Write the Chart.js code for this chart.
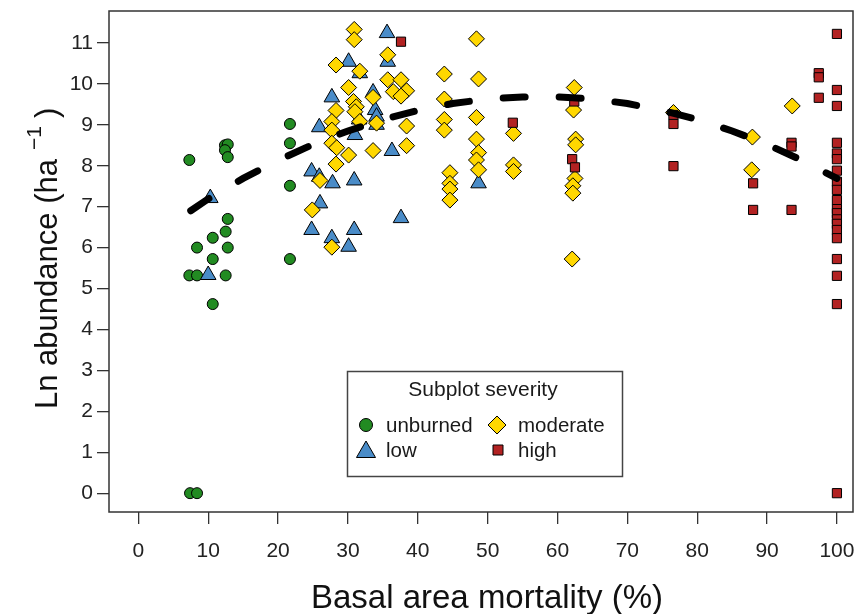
<!DOCTYPE html>
<html>
<head>
<meta charset="utf-8">
<script src="https://cdn.jsdelivr.net/npm/chart.js@4.4.0/dist/chart.umd.min.js"></script>
<style>
  html, body { margin: 0; padding: 0; background: #fff; }
  canvas { display: block; }
</style>
</head>
<body>
<canvas id="myChart" width="856" height="614"></canvas>
<script>
// ----- data ----- //
var unburnedX = [7.3, 12.4, 12.8, 12.4, 12.8, 21.7, 21.7, 21.7, 21.7, 12.8, 12.5, 10.65, 8.4, 12.8, 10.65, 7.3, 8.4, 12.5, 10.65, 7.4, 8.4];
var unburnedY = [8.14, 8.50, 8.52, 8.38, 8.21, 9.02, 8.55, 7.51, 5.72, 6.70, 6.39, 6.24, 6.00, 6.00, 5.72, 5.32, 5.32, 5.32, 4.62, 0, 0];

var lowX = [10.0, 10.3, 35.6, 30.1, 35.7, 31.7, 33.6, 27.7, 33.9, 34.1, 31.6, 34.1, 25.9, 31.0, 36.3, 24.8, 25.9, 27.8, 30.9, 26.0, 37.6, 24.8, 30.9, 27.7, 30.1, 48.7];
var lowY = [5.33, 7.21, 11.24, 10.54, 10.54, 10.26, 9.79, 9.67, 9.36, 9.20, 9.13, 9.00, 8.94, 8.75, 8.36, 7.86, 7.73, 7.57, 7.64, 7.08, 6.72, 6.43, 6.43, 6.23, 6.02, 7.57];

var moderateX = [30.9, 30.9, 28.3, 35.7, 31.7, 30.1, 35.7, 37.6, 36.5, 38.4, 37.6, 33.6, 30.8, 31.2, 28.3, 31.0, 31.7, 34.1, 27.7, 27.7, 38.4, 27.7, 28.4, 30.1, 33.6, 38.4, 28.3, 26.0, 24.9, 27.7,
  48.4, 43.8, 48.7, 43.8, 48.4, 43.8, 43.8, 48.4, 48.7, 48.4, 48.7, 44.6, 44.6, 44.6, 44.6,
  53.7, 53.7, 53.7, 62.4, 62.3, 62.6, 62.6, 62.5, 62.2, 62.2, 62.1, 76.6, 87.9, 87.8, 93.6];
var moderateY = [11.33, 11.08, 10.46, 10.71, 10.31, 9.91, 10.10, 10.10, 9.81, 9.83, 9.70, 9.67, 9.57, 9.44, 9.35, 9.32, 9.08, 9.04, 9.08, 8.87, 8.97, 8.55, 8.44, 8.26, 8.37, 8.49, 8.04, 7.64, 6.92, 6.01,
  11.10, 10.24, 10.12, 9.63, 9.18, 9.13, 8.87, 8.65, 8.32, 8.14, 7.90, 7.83, 7.57, 7.43, 7.16,
  8.79, 8.02, 7.86, 9.91, 9.36, 8.65, 8.51, 7.69, 7.51, 7.33, 5.72, 9.30, 8.70, 7.90, 9.46];

var highX = [37.6, 53.6, 62.4, 62.1, 62.5, 76.6, 76.6, 76.6, 88.0, 88.0, 93.5, 93.5, 93.5, 97.4, 97.4, 97.4,
  100, 100, 100, 100, 100, 100, 100, 100, 100, 100, 100, 100, 100, 100, 100, 100, 100, 100, 100, 100];
var highY = [11.03, 9.05, 9.57, 8.16, 7.96, 9.24, 9.02, 7.99, 7.57, 6.92, 8.56, 8.47, 6.92, 10.26, 10.16, 9.66,
  11.22, 9.85, 9.46, 8.56, 8.30, 8.16, 7.88, 7.61, 7.41, 7.16, 6.94, 6.84, 6.69, 6.58, 6.43, 6.23, 5.72, 5.31, 4.62, 0];

// dashed trend curve, read at these x positions
var trendX = [7.5, 10, 15, 20, 25, 30, 35, 40, 45, 50, 55, 60, 65, 70, 75, 80, 85, 90, 95, 100];
var trendY = [6.90, 7.19, 7.69, 8.13, 8.52, 8.85, 9.13, 9.35, 9.52, 9.63, 9.68, 9.68, 9.63, 9.52, 9.35, 9.13, 8.85, 8.52, 8.13, 7.69];

var xTicks = [0, 10, 20, 30, 40, 50, 60, 70, 80, 90, 100];
var yTicks = [0, 1, 2, 3, 4, 5, 6, 7, 8, 9, 10, 11];

var FONT = "'Liberation Sans', Arial, sans-serif";

function pts(xs, ys) {
  return xs.map((x, i) => ({ x: x, y: ys[i] }));
}

// ----- legend, box and axis titles drawn on the canvas ----- //
function marker(ctx, style, x, y, r, fill) {
  ctx.save();
  ctx.fillStyle = fill;
  ctx.strokeStyle = "#000";
  ctx.lineWidth = 1;
  ctx.beginPath();
  if (style == "circle") {
    ctx.arc(x, y, r, 0, Math.PI * 2);
  } else if (style == "triangle") {
    for (let k = 0; k < 3; k++) {
      let a = k * 2 * Math.PI / 3;
      let px = x + Math.sin(a) * r, py = y - Math.cos(a) * r;
      if (k == 0) ctx.moveTo(px, py); else ctx.lineTo(px, py);
    }
    ctx.closePath();
  } else if (style == "rectRot") {
    ctx.moveTo(x, y - r); ctx.lineTo(x + r, y); ctx.lineTo(x, y + r); ctx.lineTo(x - r, y);
    ctx.closePath();
  } else {
    ctx.rect(x - r, y - r, 2 * r, 2 * r);
  }
  ctx.fill();
  ctx.stroke();
  ctx.restore();
}

var boxAndLegend = {
  id: "boxAndLegend",
  afterDraw(chart) {
    const ctx = chart.ctx;
    const a = chart.chartArea;
    ctx.save();
    ctx.strokeStyle = "#333";
    ctx.lineWidth = 1.5;
    ctx.strokeRect(a.left, a.top, a.right - a.left, a.bottom - a.top);

    // axis titles
    ctx.fillStyle = "#111";
    ctx.textBaseline = "alphabetic";
    ctx.textAlign = "center";
    ctx.font = "33px " + FONT;
    ctx.fillText("Basal area mortality (%)", 487, 608);

    ctx.save();
    ctx.translate(57, 409);
    ctx.rotate(-Math.PI / 2);
    ctx.textAlign = "left";
    ctx.font = "31px " + FONT;
    let main = "Ln abundance (ha";
    let w1 = ctx.measureText(main).width;
    ctx.fillText(main, 0, 0);
    ctx.font = "21px " + FONT;
    let sup = "\u22121";
    let w2 = ctx.measureText(sup).width;
    ctx.fillText(sup, w1 + 9, -16);
    ctx.font = "31px " + FONT;
    ctx.fillText(")", w1 + 9 + w2 + 8, 0);
    ctx.restore();

    // legend
    ctx.fillStyle = "#fff";
    ctx.fillRect(347.5, 371.5, 275, 105);
    ctx.strokeStyle = "#444";
    ctx.lineWidth = 1.5;
    ctx.strokeRect(347.5, 371.5, 275, 105);
    ctx.fillStyle = "#1a1a1a";
    ctx.font = "21px " + FONT;
    ctx.textBaseline = "middle";
    ctx.textAlign = "center";
    ctx.fillText("Subplot severity", 483, 390);
    ctx.textAlign = "left";
    ctx.font = "20.5px " + FONT;
    ctx.fillText("unburned", 386, 426);
    ctx.fillText("low", 386, 451);
    ctx.fillText("moderate", 518, 426);
    ctx.fillText("high", 518, 451);
    ctx.restore();
    marker(ctx, "circle", 366, 425, 6.5, "#228B22");
    marker(ctx, "triangle", 366, 452, 11, "#4A8CC8");
    marker(ctx, "rectRot", 497, 425, 9, "#FFD700");
    marker(ctx, "rect", 498, 450, 5, "#B22222");
  }
};

function onPageLoad() {
  const ctx = document.getElementById("myChart");
  new Chart(ctx, {
    type: "scatter",
    data: {
      datasets: [
        {
          label: "trend",
          data: pts(trendX, trendY),
          showLine: true,
          borderColor: "#000",
          borderWidth: 7,
          borderDash: [22, 34],
          borderCapStyle: "round",
          pointRadius: 0,
          tension: 0,
          order: 0,
        },
        {
          label: "high",
          data: pts(highX, highY),
          pointStyle: "rect",
          pointRadius: 6.5,
          pointBackgroundColor: "#B22222",
          pointBorderColor: "#000",
          pointBorderWidth: 1,
          order: 1,
        },
        {
          label: "moderate",
          data: pts(moderateX, moderateY),
          pointStyle: "rectRot",
          pointRadius: 8,
          pointBackgroundColor: "#FFD700",
          pointBorderColor: "#000",
          pointBorderWidth: 1,
          order: 2,
        },
        {
          label: "low",
          data: pts(lowX, lowY),
          pointStyle: "triangle",
          pointRadius: 9,
          pointBackgroundColor: "#4A8CC8",
          pointBorderColor: "#000",
          pointBorderWidth: 1,
          order: 3,
        },
        {
          label: "unburned",
          data: pts(unburnedX, unburnedY),
          pointStyle: "circle",
          pointRadius: 5.5,
          pointBackgroundColor: "#228B22",
          pointBorderColor: "#000",
          pointBorderWidth: 1,
          order: 4,
        },
      ],
    },
    options: {
      responsive: false,
      animation: false,
      events: [],
      layout: { autoPadding: false, padding: { top: 11, right: 3, left: 0, bottom: 0 } },
      plugins: { legend: { display: false }, tooltip: { enabled: false } },
      scales: {
        x: {
          type: "linear",
          min: -4.2,
          max: 102.3,
          afterBuildTicks: (s) => { s.ticks = xTicks.map((v) => ({ value: v })); },
          afterFit: (s) => { s.height = 102; s.paddingLeft = 0; s.paddingRight = 0; },
          grid: { drawOnChartArea: false, tickLength: 12, color: "#333", lineWidth: 1.3 },
          border: { display: false },
          ticks: { font: { family: FONT, size: 21 }, color: "#222", padding: 15, maxRotation: 0, autoSkip: false },
          title: { display: false },
        },
        y: {
          type: "linear",
          min: -0.46,
          max: 11.78,
          afterBuildTicks: (s) => { s.ticks = yTicks.map((v) => ({ value: v })); },
          afterFit: (s) => { s.width = 109; s.paddingTop = 0; s.paddingBottom = 0; },
          grid: { drawOnChartArea: false, tickLength: 12, color: "#333", lineWidth: 1.3 },
          border: { display: false },
          ticks: { font: { family: FONT, size: 21 }, color: "#222", padding: 4, autoSkip: false },
          title: { display: false },
        },
      },
    },
    plugins: [boxAndLegend],
  });
}

onPageLoad();
</script>
</body>
</html>
